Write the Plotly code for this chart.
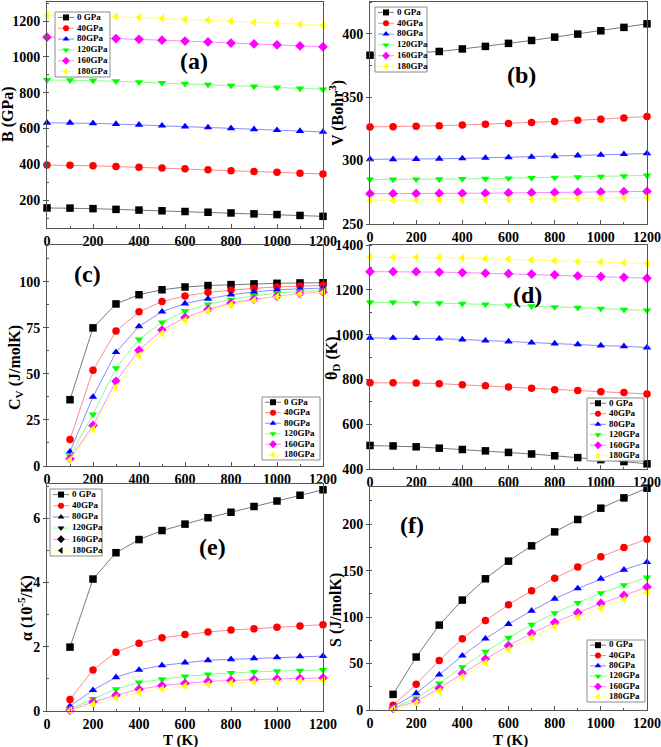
import plotly.graph_objects as go

# ---------------- data ----------------
T_full = [0, 100, 200, 300, 400, 500, 600, 700, 800, 900, 1000, 1100, 1200]
T_therm = [100, 200, 300, 400, 500, 600, 700, 800, 900, 1000, 1100, 1200]
pressures = ["0 GPa", "40GPa", "80GPa", "120GPa", "160GPa", "180GPa"]

B_GPa = [
    [157, 156, 153, 149, 145, 141, 137, 133, 129, 124, 120, 115, 110],
    [396, 395, 392, 388, 384, 380, 375, 370, 365, 360, 356, 351, 346],
    [632, 632, 629, 625, 621, 616, 611, 606, 601, 596, 591, 586, 581],
    [871, 870, 868, 864, 859, 855, 850, 845, 840, 835, 829, 824, 819],
    [1110, 1109, 1106, 1102, 1098, 1093, 1088, 1083, 1077, 1072, 1067, 1061, 1056],
    [1232, 1231, 1228, 1224, 1220, 1215, 1210, 1204, 1199, 1193, 1188, 1182, 1176],
]
V_Bohr3 = [
    [383, 384, 385, 386, 388, 390, 392.4, 394.7, 397.3, 399.7, 402.3, 405, 407.8],
    [326.5, 326.7, 327, 327.5, 328, 328.6, 329.3, 330, 330.8, 331.7, 332.6, 333.6, 334.7],
    [301, 301, 301.2, 301.4, 301.7, 302.1, 302.5, 302.9, 303.4, 303.9, 304.4, 305, 305.6],
    [285.1, 285.1, 285.2, 285.3, 285.5, 285.7, 286, 286.3, 286.6, 287, 287.4, 287.8, 288.3],
    [273.9, 273.9, 274, 274.1, 274.2, 274.3, 274.5, 274.7, 274.9, 275.1, 275.3, 275.5, 275.7],
    [268.6, 268.7, 268.7, 268.8, 269, 269.1, 269.3, 269.5, 269.8, 270.1, 270.4, 270.7, 271],
]
Cv = [
    [36, 75, 88, 93, 95.7, 97.2, 98, 98.5, 98.9, 99.2, 99.4, 99.5],
    [14.4, 52, 73.3, 83.7, 89.3, 92.3, 94.3, 95.6, 96.5, 97.2, 97.7, 98.1],
    [7.8, 37.5, 61.8, 75.8, 83.8, 88.2, 90.8, 93, 94.5, 95.7, 96.2, 96.6],
    [5.4, 28, 53.2, 68.8, 78, 84.1, 87.8, 90.4, 92.4, 93.9, 94.8, 95.3],
    [4, 22, 46, 62.8, 73.8, 80.7, 85, 88.5, 90.5, 92.2, 93.6, 94.5],
    [3.3, 20, 42.8, 60, 72, 79.2, 84.2, 87.6, 89.9, 91.9, 93.3, 94.2],
]
theta_D = [
    [505, 503, 499, 493, 487, 481, 474, 467, 459, 451, 442, 433, 423],
    [785, 785, 784, 781, 776, 772, 766, 760, 754, 750, 745, 741, 735],
    [985, 985, 984, 982, 978, 973, 969, 964, 960, 956, 951, 948, 942],
    [1144, 1144, 1142, 1141, 1138, 1135, 1130, 1127, 1123, 1120, 1116, 1111, 1108],
    [1281, 1281, 1281, 1279, 1277, 1274, 1272, 1270, 1267, 1262, 1259, 1256, 1252],
    [1345, 1345, 1345, 1344, 1342, 1339, 1336, 1333, 1330, 1327, 1324, 1321, 1317],
]
alpha = [
    [1.99, 4.11, 4.93, 5.34, 5.62, 5.82, 6.02, 6.19, 6.37, 6.54, 6.72, 6.89],
    [0.36, 1.28, 1.83, 2.11, 2.28, 2.38, 2.46, 2.52, 2.56, 2.61, 2.65, 2.69],
    [0.15, 0.65, 1.05, 1.28, 1.42, 1.51, 1.58, 1.61, 1.64, 1.67, 1.70, 1.71],
    [0.07, 0.38, 0.68, 0.89, 0.99, 1.08, 1.14, 1.19, 1.22, 1.24, 1.26, 1.28],
    [0.03, 0.28, 0.49, 0.68, 0.79, 0.86, 0.92, 0.95, 0.98, 1.00, 1.01, 1.03],
    [0.01, 0.21, 0.41, 0.59, 0.69, 0.78, 0.83, 0.87, 0.90, 0.92, 0.94, 0.95],
]
S_entropy = [
    [16.8, 57, 91.4, 118.3, 141.2, 160.2, 176.7, 191.7, 205, 217.2, 228.3, 238.7],
    [5, 27.6, 53.4, 76.7, 96.4, 113.3, 128.3, 141.9, 153.8, 164.9, 174.9, 183.9],
    [3.6, 17.9, 38, 58.4, 76.7, 92.5, 106.8, 119.7, 130.8, 141.2, 150.9, 159.1],
    [2.5, 12.5, 28.7, 46.2, 62.7, 77.8, 91.8, 104.3, 115.4, 125.8, 134.4, 142.6],
    [1.8, 9.3, 23.3, 39.4, 54.8, 69.2, 82.4, 94.3, 104.7, 114.7, 123.3, 132.3],
    [1.1, 7.5, 20.4, 35.8, 50.9, 65.2, 78.1, 89.6, 100, 109.7, 118.6, 126.5],
]

# ---------------- styles ----------------
marker_colors = ["#000000", "#ff0000", "#0000ff", "#00ff00", "#ff00ff", "#ffff00"]
line_colors = ["#7a7a7a", "#ff8a8a", "#8a8aff", "#8aff8a", "#ff8aff", "#ffff80"]
symbols = ["square", "circle", "triangle-up", "triangle-down", "diamond", "triangle-left"]
legend_e_marker_colors = ["#000000", "#ff0000", "#000000", "#000000", "#000000", "#000000"]

FONT = "Liberation Serif"
W, H = 661, 747
FRAME = "#555555"


def px_x(x):
    return x / W


def px_y(y):
    return 1 - y / H


panels = [
    dict(x=T_full, ys=B_GPa, xd=(47, 323), yd=(2, 228), yr=[45, 1306], dt=200, mdt=100,
         title="B (GPa)", tpos=(8, 114), label="(a)", lpos=(194, 61),
         box=(55, 12, 110, 77), xtitle=None),
    dict(x=T_full, ys=V_Bohr3, xd=(370, 647), yd=(2, 224), yr=[250, 425], dt=50, mdt=25,
         title="V (Bohr<sup>3</sup>)", tpos=(336, 113), label="(b)", lpos=(521, 75),
         box=(375, 7, 427, 72), xtitle=None),
    dict(x=T_therm, ys=Cv, xd=(47, 323), yd=(245, 466), yr=[0, 120], dt=25, mdt=12.5,
         title="C<sub>V</sub> (J/molK)", tpos=(15, 368), label="(c)", lpos=(87, 274),
         box=(262, 397, 320, 460), xtitle=None),
    dict(x=T_full, ys=theta_D, xd=(370, 647), yd=(245, 469), yr=[400, 1400], dt=200, mdt=100,
         title="θ<sub>D</sub> (K)", tpos=(332, 358), label="(d)", lpos=(527, 295),
         box=(587, 398, 644, 461), xtitle=None),
    dict(x=T_therm, ys=alpha, xd=(47, 323), yd=(484, 711), yr=[0, 7.07], dt=2, mdt=1,
         title="α (10<sup>-5</sup>/K)", tpos=(25, 608), label="(e)", lpos=(212, 547),
         box=(50, 489, 102, 556), xtitle=("T (K)", 180, 740)),
    dict(x=T_therm, ys=S_entropy, xd=(370, 647), yd=(487, 710), yr=[0, 240], dt=50, mdt=25,
         title="S (J/molK)", tpos=(336, 610), label="(f)", lpos=(412, 525),
         box=(587, 640, 645, 702), xtitle=("T (K)", 510, 740)),
]

fig = go.Figure()
layout = dict(
    width=W, height=H, margin=dict(l=0, r=0, t=0, b=0, pad=0, autoexpand=False),
    paper_bgcolor="white", plot_bgcolor="rgba(0,0,0,0)", showlegend=False,
    font=dict(family=FONT, color="black", weight="bold"),
    annotations=[],
)

tickfont = dict(family=FONT, size=14, color="black", weight="bold")


def paper_text(text, x, y, size, angle=0):
    return dict(text=text, x=px_x(x), y=px_y(y), xref="paper", yref="paper",
                showarrow=False, xanchor="center", yanchor="middle", textangle=angle,
                font=dict(family=FONT, size=size, color="black", weight="bold"))


for k, p in enumerate(panels):
    n = k + 1
    xa = "xaxis" if n == 1 else f"xaxis{n}"
    ya = "yaxis" if n == 1 else f"yaxis{n}"
    xref = "x" if n == 1 else f"x{n}"
    yref = "y" if n == 1 else f"y{n}"
    common = dict(showline=True, linecolor=FRAME, linewidth=1, mirror=True,
                  tickcolor=FRAME, tickwidth=1, automargin=False,
                  tickfont=tickfont, showgrid=False, zeroline=False, fixedrange=True)
    layout[xa] = dict(common, domain=[px_x(p["xd"][0]), px_x(p["xd"][1])], anchor=yref,
                      range=[0, 1200], tickmode="linear", tick0=0, dtick=200,
                      ticks="inside", ticklen=4,
                      minor=dict(ticks="inside", ticklen=2, tickcolor=FRAME, dtick=100))
    layout[ya] = dict(common, domain=[px_y(p["yd"][1]), px_y(p["yd"][0])], anchor=xref,
                      range=p["yr"], tickmode="linear", tick0=0, dtick=p["dt"],
                      ticks="outside", ticklen=3,
                      minor=dict(ticks="inside", ticklen=2, tickcolor=FRAME, dtick=p["mdt"]))
    for i, yv in enumerate(p["ys"]):
        fig.add_trace(go.Scatter(
            x=p["x"], y=yv, mode="lines+markers", name=pressures[i],
            xaxis=xref, yaxis=yref, cliponaxis=False, hoverinfo="skip",
            line=dict(color=line_colors[i], width=1),
            marker=dict(symbol=symbols[i], color=marker_colors[i], size=7.5,
                        line=dict(width=0)),
        ))
    layout["annotations"].append(paper_text(p["label"], p["lpos"][0], p["lpos"][1], 24))
    layout["annotations"].append(paper_text(p["title"], p["tpos"][0], p["tpos"][1], 16, -90))
    if p["xtitle"]:
        t, tx, ty = p["xtitle"]
        layout["annotations"].append(paper_text(t, tx, ty, 15))

# ---------------- legends (overlay axis in pixel units) ----------------
layout["xaxis7"] = dict(domain=[0, 1], range=[0, W], visible=False, fixedrange=True,
                        anchor="y7", automargin=False)
layout["yaxis7"] = dict(domain=[0, 1], range=[H, 0], visible=False, fixedrange=True,
                        anchor="x7", automargin=False)

for k, p in enumerate(panels):
    x0, y0, x1, y1 = p["box"]
    fig.add_trace(go.Scatter(
        x=[x0, x1, x1, x0, x0], y=[y0, y0, y1, y1, y0], mode="lines", fill="toself",
        fillcolor="white", line=dict(color="#8c8c8c", width=1),
        xaxis="x7", yaxis="y7", hoverinfo="skip", cliponaxis=False))
    step = (y1 - y0) / len(pressures)
    mcols = legend_e_marker_colors if k == 4 else marker_colors
    for i, name in enumerate(pressures):
        yc = y0 + step * (i + 0.5)
        fig.add_trace(go.Scatter(
            x=[x0 + 3, x0 + 19], y=[yc, yc], mode="lines",
            line=dict(color=line_colors[i], width=1),
            xaxis="x7", yaxis="y7", hoverinfo="skip", cliponaxis=False))
        fig.add_trace(go.Scatter(
            x=[x0 + 11], y=[yc], mode="markers",
            marker=dict(symbol=symbols[i], color=mcols[i], size=6, line=dict(width=0)),
            xaxis="x7", yaxis="y7", hoverinfo="skip", cliponaxis=False))
        fig.add_trace(go.Scatter(
            x=[x0 + 22], y=[yc], mode="text", text=[name], textposition="middle right",
            textfont=dict(family=FONT, size=9, color="black", weight="bold"),
            xaxis="x7", yaxis="y7", hoverinfo="skip", cliponaxis=False))

fig.update_layout(**layout)
fig.write_html("out.html", config={"displayModeBar": False},
               post_script="document.body.style.margin='0px';")
